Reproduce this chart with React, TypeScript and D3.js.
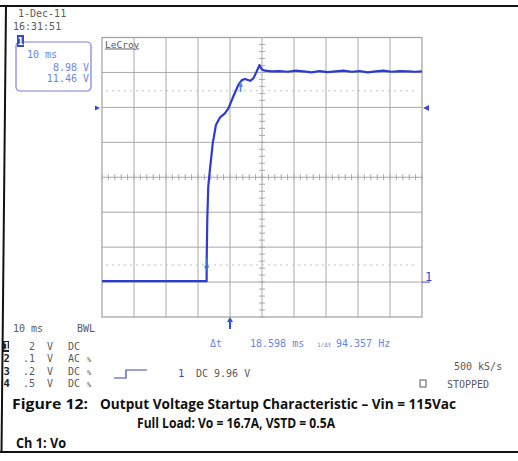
import React from "react";
import * as d3 from "d3";

// scope settings: 10 ms/div, 2 V/div, trigger at t = 0
const timeDomain = [-40, 60];
const voltDomain = [-2, 14];
const gridCols = 10;
const gridRows = 8;

// channel 1 trace (ms, V)
const traceTime = [
  -40, -30, -20, -7.3, -7.3, -7.1, -6.8, -6.5, -5.4, -4.4, -3.1, -1.6, -0.5, 1.0, 2.6,
  3.7, 4.7, 6.3, 7.3, 8.3, 9.2, 9.9, 10.9, 13, 15.5, 18, 20.5, 23, 25.5, 28, 30.5, 33,
  35.5, 38, 40.5, 43, 45.5, 48, 50.5, 53, 55.5, 58, 60,
];
const traceVolts = [
  0.05, 0.05, 0.05, 0.05, 1.1, 3.55, 5.45, 6.03, 7.94, 8.99, 9.43, 9.66, 9.94, 10.61,
  11.28, 11.56, 11.62, 11.52, 11.66, 12.04, 12.42, 12.18, 12.1, 12.06, 12.08, 12.04,
  12.1, 12.06, 12.0, 12.08, 12.02, 12.06, 12.1, 12.04, 12.08, 12.0, 12.06, 12.1, 12.04,
  12.08, 12.06, 12.04, 12.06,
];

// horizontal cursor levels (V) and cursor markers
const cursorLevels = [10.95, 0.98];
const cursorTimes = [-7.3, 3.3];
const triggerLevel = 9.96;
const groundLevel = 0;

const channelRows = [
  ["1", "2", "V", "DC", ""],
  ["2", ".1", "V", "AC", "%"],
  ["3", ".2", "V", "DC", "%"],
  ["4", ".5", "V", "DC", "%"],
];

const mono = "'DejaVu Sans Mono', monospace";
const gray = "#5a5a5a";
const blueText = "#6a86dd";
const traceBlue = "#2c3cd2";

export default function App() {
  const left = 102, right = 422, top = 37.5, bottom = 317;
  const x = d3.scaleLinear().domain(timeDomain).range([left, right]);
  const y = d3.scaleLinear().domain(voltDomain).range([bottom, top]);

  const pts = traceTime.map((t, i) => [t, traceVolts[i]] as [number, number]);
  const line = d3.line<[number, number]>().x(d => x(d[0])).y(d => y(d[1]));

  const colW = (right - left) / gridCols;
  const rowH = (bottom - top) / gridRows;
  const cx = x(10), cy = y(6);

  const vLines = d3.range(1, gridCols).map(i => left + i * colW);
  const hLines = d3.range(1, gridRows).map(i => top + i * rowH);
  const hTicks = d3.range(0, gridCols * 5 + 1).map(i => left + (i * colW) / 5);
  const vTicks = d3.range(0, gridRows * 5 + 1).map(i => top + (i * rowH) / 5);

  const c0x = x(cursorTimes[0]), c0y = y(cursorLevels[1]);
  const c1x = x(cursorTimes[1]), c1y = y(cursorLevels[0]);
  const trigX = x(0);
  const trigY = y(triggerLevel);
  const gndY = y(groundLevel);

  return (
    <svg width={518} height={461} style={{ position: "absolute", left: 0, top: 0, background: "#fff" }}>
      {/* page frame */}
      <line x1={0} x2={518} y1={6} y2={6} stroke="#111" strokeWidth={2} />
      <line x1={0} x2={518} y1={452} y2={452} stroke="#111" strokeWidth={2} />
      <line x1={6} x2={1.5} y1={5} y2={453} stroke="#111" strokeWidth={2} />

      {/* date / time */}
      <text x={18} y={17} fontFamily={mono} fontSize={10} fill={gray}>1-Dec-11</text>
      <text x={13} y={30} fontFamily={mono} fontSize={10} fill={gray}>16:31:51</text>

      {/* cursor readout box */}
      <rect x={16} y={42} width={75} height={49} rx={4} fill="none" stroke="#7c7ce0" strokeWidth={1.2} />
      <rect x={17} y={35} width={7} height={12} fill="#3a48c8" />
      <text x={20.5} y={45} fontFamily={mono} fontSize={10} fontWeight="bold" fill="#fff" textAnchor="middle">1</text>
      <text x={27} y={58} fontFamily={mono} fontSize={10} fill={blueText}>10 ms</text>
      <text x={89} y={71} fontFamily={mono} fontSize={10} fill={blueText} textAnchor="end">8.98 V</text>
      <text x={89} y={82} fontFamily={mono} fontSize={10} fill={blueText} textAnchor="end">11.46 V</text>

      {/* grid */}
      {vLines.map((v, i) => (
        <line key={"v" + i} x1={v} x2={v} y1={top} y2={bottom} stroke="#a8a8a8" strokeWidth={1} />
      ))}
      {hLines.map((h, i) => (
        <line key={"h" + i} x1={left} x2={right} y1={h} y2={h} stroke="#a8a8a8" strokeWidth={1} />
      ))}
      <rect x={left} y={top} width={right - left} height={bottom - top} fill="none" stroke="#a0a0a0" strokeWidth={1.2} />
      {hTicks.map((h, i) => (
        <line key={"ht" + i} x1={h} x2={h} y1={cy - 3} y2={cy + 3} stroke="#a8a8a8" strokeWidth={1} />
      ))}
      {vTicks.map((v, i) => (
        <line key={"vt" + i} x1={cx - 3} x2={cx + 3} y1={v} y2={v} stroke="#a8a8a8" strokeWidth={1} />
      ))}
      <text x={left + 3} y={top + 10} fontFamily={mono} fontSize={9.5} fill={gray} textDecoration="underline">LeCroy</text>

      {/* cursor level lines */}
      {cursorLevels.map((v, i) => (
        <line key={"cl" + i} x1={left + 4} x2={right - 4} y1={y(v)} y2={y(v)} stroke="#c4c4c4" strokeWidth={1} strokeDasharray="2,4" />
      ))}

      {/* trace */}
      <path d={line(pts) || ""} fill="none" stroke={traceBlue} strokeWidth={2.2} strokeLinejoin="round" />

      {/* cursor markers */}
      <line x1={c0x} x2={c0x} y1={c0y - 7} y2={c0y + 3} stroke="#3a6ee0" strokeWidth={1.5} />
      <path d={`M${c0x - 2.5},${c0y + 1}L${c0x + 2.5},${c0y + 1}L${c0x},${c0y + 6}Z`} fill="#3a6ee0" />
      <line x1={c1x} x2={c1x} y1={c1y - 5} y2={c1y + 1} stroke="#4a86e6" strokeWidth={1.5} />
      <path d={`M${c1x - 2.5},${c1y - 4}L${c1x + 2.5},${c1y - 4}L${c1x},${c1y - 9}Z`} fill="#4a86e6" />

      {/* trigger level markers */}
      <path d={`M${left - 7},${trigY - 2.5}L${left - 7},${trigY + 2.5}L${left - 2},${trigY}Z`} fill="#3a48c8" />
      <path d={`M${right + 7},${trigY - 3}L${right + 7},${trigY + 3}L${right + 1},${trigY}Z`} fill="#3a48c8" />

      {/* trigger time marker */}
      <line x1={trigX} x2={trigX} y1={bottom + 3} y2={bottom + 12} stroke="#2f54d0" strokeWidth={2} />
      <path d={`M${trigX - 3},${bottom + 5}L${trigX + 3},${bottom + 5}L${trigX},${bottom}Z`} fill="#2f54d0" />

      {/* ground marker */}
      <text x={right + 3} y={gndY - 1} fontFamily={mono} fontSize={12} fill="#3a48c8">1</text>
      <line x1={right} x2={right + 8} y1={gndY} y2={gndY} stroke="#3a48c8" strokeWidth={1} />

      {/* bottom info */}
      <text x={13} y={332} fontFamily={mono} fontSize={10} fill={gray}>10 ms</text>
      <text x={77} y={332} fontFamily={mono} fontSize={10} fill={gray}>BWL</text>
      {channelRows.map((r, i) => {
        const by = 350 + i * 12.4;
        return (
          <g key={"ch" + i}>
            {i === 0 && <rect x={3} y={by - 9} width={6} height={11} fill="#222" />}
            <text x={3.5} y={by} fontFamily={mono} fontSize={10.5} fontWeight="bold" fill={i === 0 ? "#fff" : "#222"}>{r[0]}</text>
            <text x={35} y={by} fontFamily={mono} fontSize={10} fill={gray} textAnchor="end">{r[1]}</text>
            <text x={47} y={by} fontFamily={mono} fontSize={10} fill={gray}>{r[2]}</text>
            <text x={68} y={by} fontFamily={mono} fontSize={10} fill={gray}>{r[3]}</text>
            {r[4] && <text x={87} y={by} fontFamily={mono} fontSize={7} fill={gray}>{r[4]}</text>}
          </g>
        );
      })}

      <text x={210} y={347} fontFamily={mono} fontSize={10} fill={blueText}>Δt</text>
      <text x={250} y={347} fontFamily={mono} fontSize={10} fill={blueText}>18.598 ms</text>
      <text x={317} y={347} fontFamily={mono} fontSize={6} fill={blueText}>1/Δt</text>
      <text x={336} y={347} fontFamily={mono} fontSize={10} fill={blueText}>94.357 Hz</text>

      <path d="M114,378H126V370H147" fill="none" stroke="#3a48a8" strokeWidth={1.2} />
      <text x={178} y={377} fontFamily={mono} fontSize={10.5} fill="#3a48c8">1</text>
      <text x={196} y={377} fontFamily={mono} fontSize={10} fill={gray}>DC 9.96 V</text>

      <text x={454} y={370} fontFamily={mono} fontSize={10} fill={gray}>500 kS/s</text>
      <rect x={420} y={380} width={6} height={7} fill="none" stroke={gray} strokeWidth={1} />
      <text x={447} y={388} fontFamily={mono} fontSize={10} fill={gray}>STOPPED</text>

      {/* caption */}
      <g fontFamily="'Open Sans', 'Liberation Sans', sans-serif" fontWeight="bold" fontSize={13.5} fill="#111">
        <text x={12} y={409} textLength={76} lengthAdjust="spacingAndGlyphs">Figure 12:</text>
        <text x={100} y={409} textLength={356} lengthAdjust="spacingAndGlyphs">Output Voltage Startup Characteristic – Vin = 115Vac</text>
        <text x={137} y={428} textLength={198} lengthAdjust="spacingAndGlyphs">Full Load:  Vo = 16.7A,  VSTD = 0.5A</text>
        <text x={16} y={448} textLength={50} lengthAdjust="spacingAndGlyphs">Ch 1: Vo</text>
      </g>
    </svg>
  );
}
